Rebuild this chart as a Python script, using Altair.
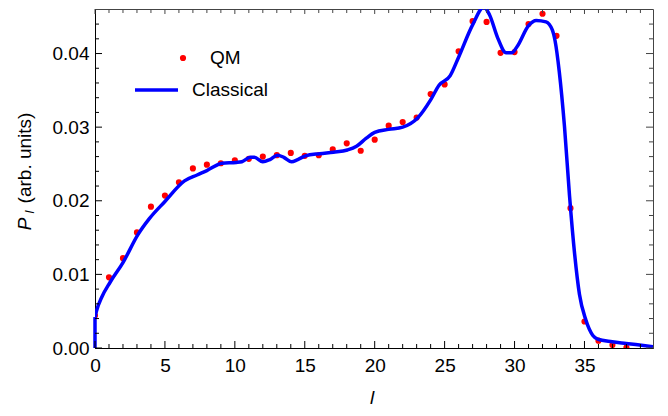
import altair as alt
import pandas as pd

# ---- data ----
qm_l = list(range(39))
qm_p = [0.0044, 0.0096, 0.0122, 0.0157, 0.0192, 0.0207, 0.0225, 0.0244, 0.0249, 0.0251,
        0.0255, 0.0257, 0.0260, 0.0262, 0.0265, 0.0261, 0.0262, 0.0270, 0.0278, 0.0268,
        0.0283, 0.0302, 0.0307, 0.0313, 0.0345, 0.0358, 0.0403, 0.0444, 0.0443, 0.0401,
        0.0402, 0.0440, 0.0454, 0.0424, 0.0190, 0.0036, 0.0010, 0.0004, 0.00004]

cl_l = [0.0, 0.1, 0.48, 1.07, 2.0, 3.07, 3.9, 5.0, 6.4, 7.3, 8.0, 9.1, 10.1, 10.5, 11.1, 11.4,
        12.0, 12.5, 13.05, 13.5, 14.05, 14.5, 15.05, 16.07, 17.05, 18.05, 18.7, 19.4, 20.0,
        21.0, 22.0, 23.05, 24.0, 24.6, 25.4, 26.0, 27.0, 27.8, 28.2, 28.8, 29.4, 29.8, 30.2,
        31.0, 31.55, 32.25, 32.7, 32.9, 33.2, 33.57, 33.93, 34.3, 34.64, 35.1, 35.6, 35.95,
        36.98, 37.98, 39.9]
cl_p = [0.0042, 0.0050, 0.0069, 0.0089, 0.0116, 0.0154, 0.0176, 0.0199, 0.0227, 0.0235,
        0.0241, 0.0251, 0.0252, 0.0253, 0.0259, 0.0259, 0.0253, 0.0256, 0.0262, 0.0259,
        0.0253, 0.0256, 0.0261, 0.0264, 0.0266, 0.0269, 0.0274, 0.0285, 0.0293, 0.0297,
        0.0300, 0.0312, 0.0337, 0.0357, 0.0370, 0.0395, 0.0439, 0.0463, 0.0453, 0.0421,
        0.0401, 0.0401, 0.0410, 0.0438, 0.0445, 0.0443, 0.0432, 0.0417, 0.0375, 0.0301,
        0.0207, 0.0127, 0.0073, 0.0038, 0.0017, 0.0012, 0.00085, 0.00062, 0.00018]

start_l = [0.0, 0.0]
start_p = [0.0, 0.0042]

x_major = [0, 5, 10, 15, 20, 25, 30, 35]
x_minor = [i for i in range(40) if i % 5 != 0]
y_major = [0.0, 0.01, 0.02, 0.03, 0.04]
y_minor = [0.002, 0.004, 0.006, 0.008, 0.012, 0.014, 0.016, 0.018, 0.022, 0.024, 0.026,
           0.028, 0.032, 0.034, 0.036, 0.038, 0.042, 0.044]

W, H = 558, 339
FONT = "Liberation Sans"
xs = alt.Scale(domain=[0, 39.9], nice=False, zero=False)
ys = alt.Scale(domain=[0, 0.04605], nice=False, zero=False)

qm_df = pd.DataFrame({"l": qm_l, "p": qm_p})
cl_df = pd.DataFrame({"l": cl_l, "p": cl_p})
st_df = pd.DataFrame({"l": start_l, "p": start_p, "i": [0, 1]})
one = pd.DataFrame({"a": [0]})

xaxis = alt.Axis(values=x_major, ticks=False, tickSize=0, domain=True, domainColor="black",
                 domainWidth=1, labelFontSize=19, labelFont=FONT, labelColor="black",
                 labelPadding=8, labelFlush=False, labelOverlap=False, title=None, grid=False)
yaxis = alt.Axis(values=y_major, format=".2f", ticks=False, tickSize=0, domain=True,
                 domainColor="black", domainWidth=1, labelFontSize=19, labelFont=FONT,
                 labelColor="black", labelPadding=6, labelOverlap=False, title=None, grid=False)

X = lambda f: alt.X(f, scale=xs, axis=xaxis, title=None)
Y = lambda f: alt.Y(f, scale=ys, axis=yaxis, title=None)

layers = []

points = alt.Chart(qm_df).mark_circle(color="#ff0000", size=38, opacity=1, clip=True).encode(
    x=X("l:Q"), y=Y("p:Q"))
layers.append(points)

start = alt.Chart(st_df).mark_line(color="#0000ff", strokeWidth=3.5).encode(
    x=X("l:Q"), y=Y("p:Q"), order=alt.Order("i:Q"))
line = alt.Chart(cl_df).mark_line(color="#0000ff", strokeWidth=3.5, interpolate="monotone",
                                   clip=True).encode(x=X("l:Q"), y=Y("p:Q"))
layers += [start, line]


def xticks(vals, length, top, color):
    df = pd.DataFrame({"l": vals})
    y0 = 0 if top else H
    y1 = length if top else H - length
    return alt.Chart(df).mark_rule(color=color, strokeWidth=1).encode(
        x=X("l:Q"), y=alt.value(y0), y2=alt.value(y1))


def yticks(vals, length, right, color):
    df = pd.DataFrame({"p": vals})
    x0 = W if right else 0
    x1 = W - length if right else length
    return alt.Chart(df).mark_rule(color=color, strokeWidth=1).encode(
        y=Y("p:Q"), x=alt.value(x0), x2=alt.value(x1))


layers += [
    xticks(x_major, 7, False, "black"), xticks(x_minor, 4, False, "black"),
    xticks(x_major, 5, True, "#444"), xticks(x_minor, 4, True, "#444"),
    yticks(y_major, 7, False, "black"), yticks(y_minor, 4, False, "black"),
    yticks(y_major, 7, True, "#444"), yticks(y_minor, 4, True, "#444"),
]


def text(t, x, y, size=19, align="center", baseline="middle", angle=0, style="normal"):
    return alt.Chart(one).mark_text(text=t, font=FONT, fontSize=size, color="black",
                                    align=align, baseline=baseline, angle=angle,
                                    fontStyle=style).encode(x=alt.value(x), y=alt.value(y))


# axis titles
layers += [
    text("P", -70, 215, angle=270, style="italic"),
    text("l", -65, 203, size=13, angle=270, style="italic"),
    text("(arb. units)", -70, 149, angle=270),
    text("l", 277, 399, baseline="bottom", style="italic"),
]

# legend
layers += [
    alt.Chart(one).mark_circle(color="#ff0000", size=38, opacity=1).encode(
        x=alt.value(88), y=alt.value(49)),
    text("QM", 115, 49, align="left"),
    alt.Chart(one).mark_rule(color="#0000ff", strokeWidth=3.5).encode(
        x=alt.value(40), x2=alt.value(83), y=alt.value(81)),
    text("Classical", 97, 81, align="left"),
]

chart = alt.layer(*layers).properties(
    width=W, height=H,
    padding={"left": 87, "top": 1, "right": 7, "bottom": 60},
    autosize=alt.AutoSizeParams(type="none"),
).configure_view(stroke="#444", strokeWidth=1)

chart.save("out.html", embed_options={"renderer": "svg", "actions": False})
